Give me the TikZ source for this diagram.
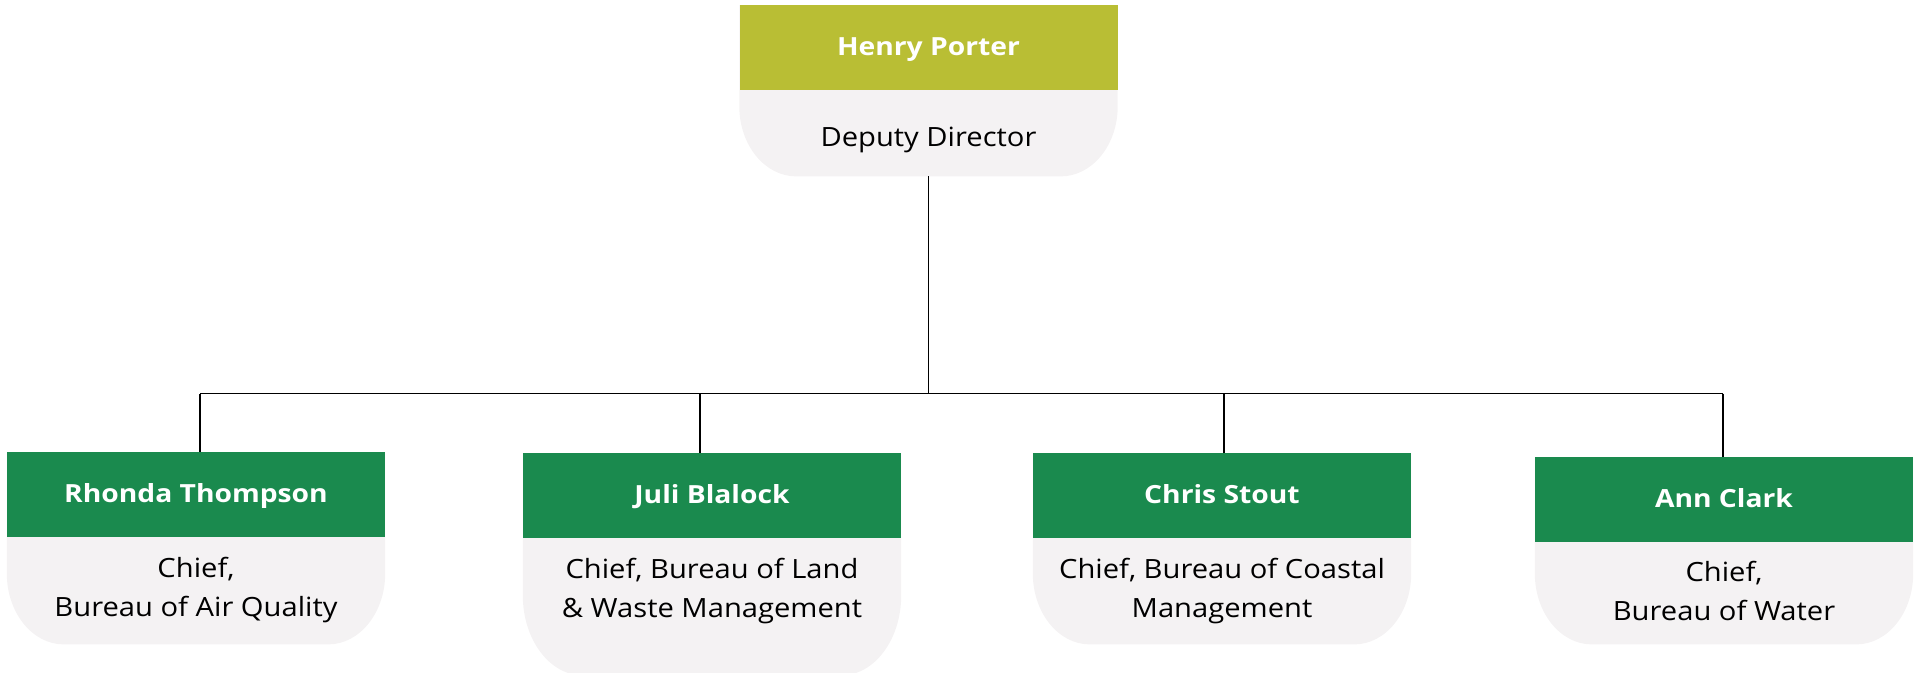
\documentclass[tikz,border=0pt]{standalone}
\usepackage{fontspec}
\setmainfont{Open Sans}[FakeStretch=1.1, BoldFeatures={FakeStretch=1.13}]
\definecolor{hdolive}{HTML}{B9BE34}
\definecolor{hdgreen}{HTML}{1A8A4E}
\definecolor{bodygrey}{HTML}{F4F2F3}
\newcommand\bodyshape[3]{% node, x radius, y radius
  \fill[bodygrey] (#1.north west) -- ([yshift=#3pt]#1.south west)
    arc[start angle=180, end angle=90, x radius=#2, y radius=#3]
    -- ([xshift=-#2pt]#1.south east)
    arc[start angle=90, end angle=0, x radius=#2, y radius=#3]
    -- (#1.north east) -- cycle;}
\begin{document}
\begin{tikzpicture}[x=1pt,y=-1pt,
  bodybox/.style={minimum width=378pt, inner sep=0pt, anchor=north},
  headbox/.style={minimum width=378pt, minimum height=85pt, inner sep=0pt, anchor=north,
    text=white, text height=20pt, text depth=4pt, font=\fontsize{25}{30}\selectfont\bfseries},
  bodytext/.style={align=center, inner sep=0pt, text=black, font=\fontsize{26.5}{39}\selectfont},
  link/.style={draw=black, line width=1.5pt}]
\useasboundingbox (0,0) rectangle (1916,672);
\clip (0,0) rectangle (1916,672);

% top
\node[bodybox, minimum height=171pt] (pb) at (928.5,5) {};
\bodyshape{pb}{57}{70}
\node[headbox, fill=hdolive] (hp) at (928.5,5) {Henry Porter};
\node[bodytext, anchor=base] (pt) at (928.5,146) {Deputy Director};

% children
\node[bodybox, minimum height=192pt] (rb) at (196,452) {};
\bodyshape{rb}{57}{71}
\node[headbox, fill=hdgreen] (rh) at (196,452) {Rhonda Thompson};
\node[bodytext] (rt) at (196,590) {Chief,\\Bureau of Air Quality};

\node[bodybox, minimum height=222pt] (jb) at (712,453) {};
\bodyshape{jb}{60}{80}
\node[headbox, fill=hdgreen] (jh) at (712,453) {Juli Blalock};
\node[bodytext] (jt) at (712,591) {Chief, Bureau of Land\\\&\ Waste Management};

\node[bodybox, minimum height=191pt] (cb) at (1222,453) {};
\bodyshape{cb}{57}{71}
\node[headbox, fill=hdgreen] (ch) at (1222,453) {Chris Stout};
\node[bodytext] (ct) at (1222,591) {Chief, Bureau of Coastal\\Management};

\node[bodybox, minimum height=187pt] (ab) at (1724,457) {};
\bodyshape{ab}{57}{71}
\node[headbox, fill=hdgreen] (ah) at (1724,457) {Ann Clark};
\node[bodytext] (at) at (1724,591) {Chief,\\Bureau of Water};

% connectors
\coordinate (busL) at (200,393.5);
\coordinate (busR) at (1723,393.5);
\draw[link] (pb.south) -- (pb.south |- busL);
\draw[link] (busL) -- (busR);
\draw[link] (busL) -- (busL |- rh.north);
\draw[link] ([xshift=-12pt]jh.north) -- ([xshift=-12pt]jh.north |- busL);
\draw[link] ([xshift=2pt]ch.north) -- ([xshift=2pt]ch.north |- busL);
\draw[link] (busR) -- (busR |- ah.north);
\end{tikzpicture}
\end{document}
